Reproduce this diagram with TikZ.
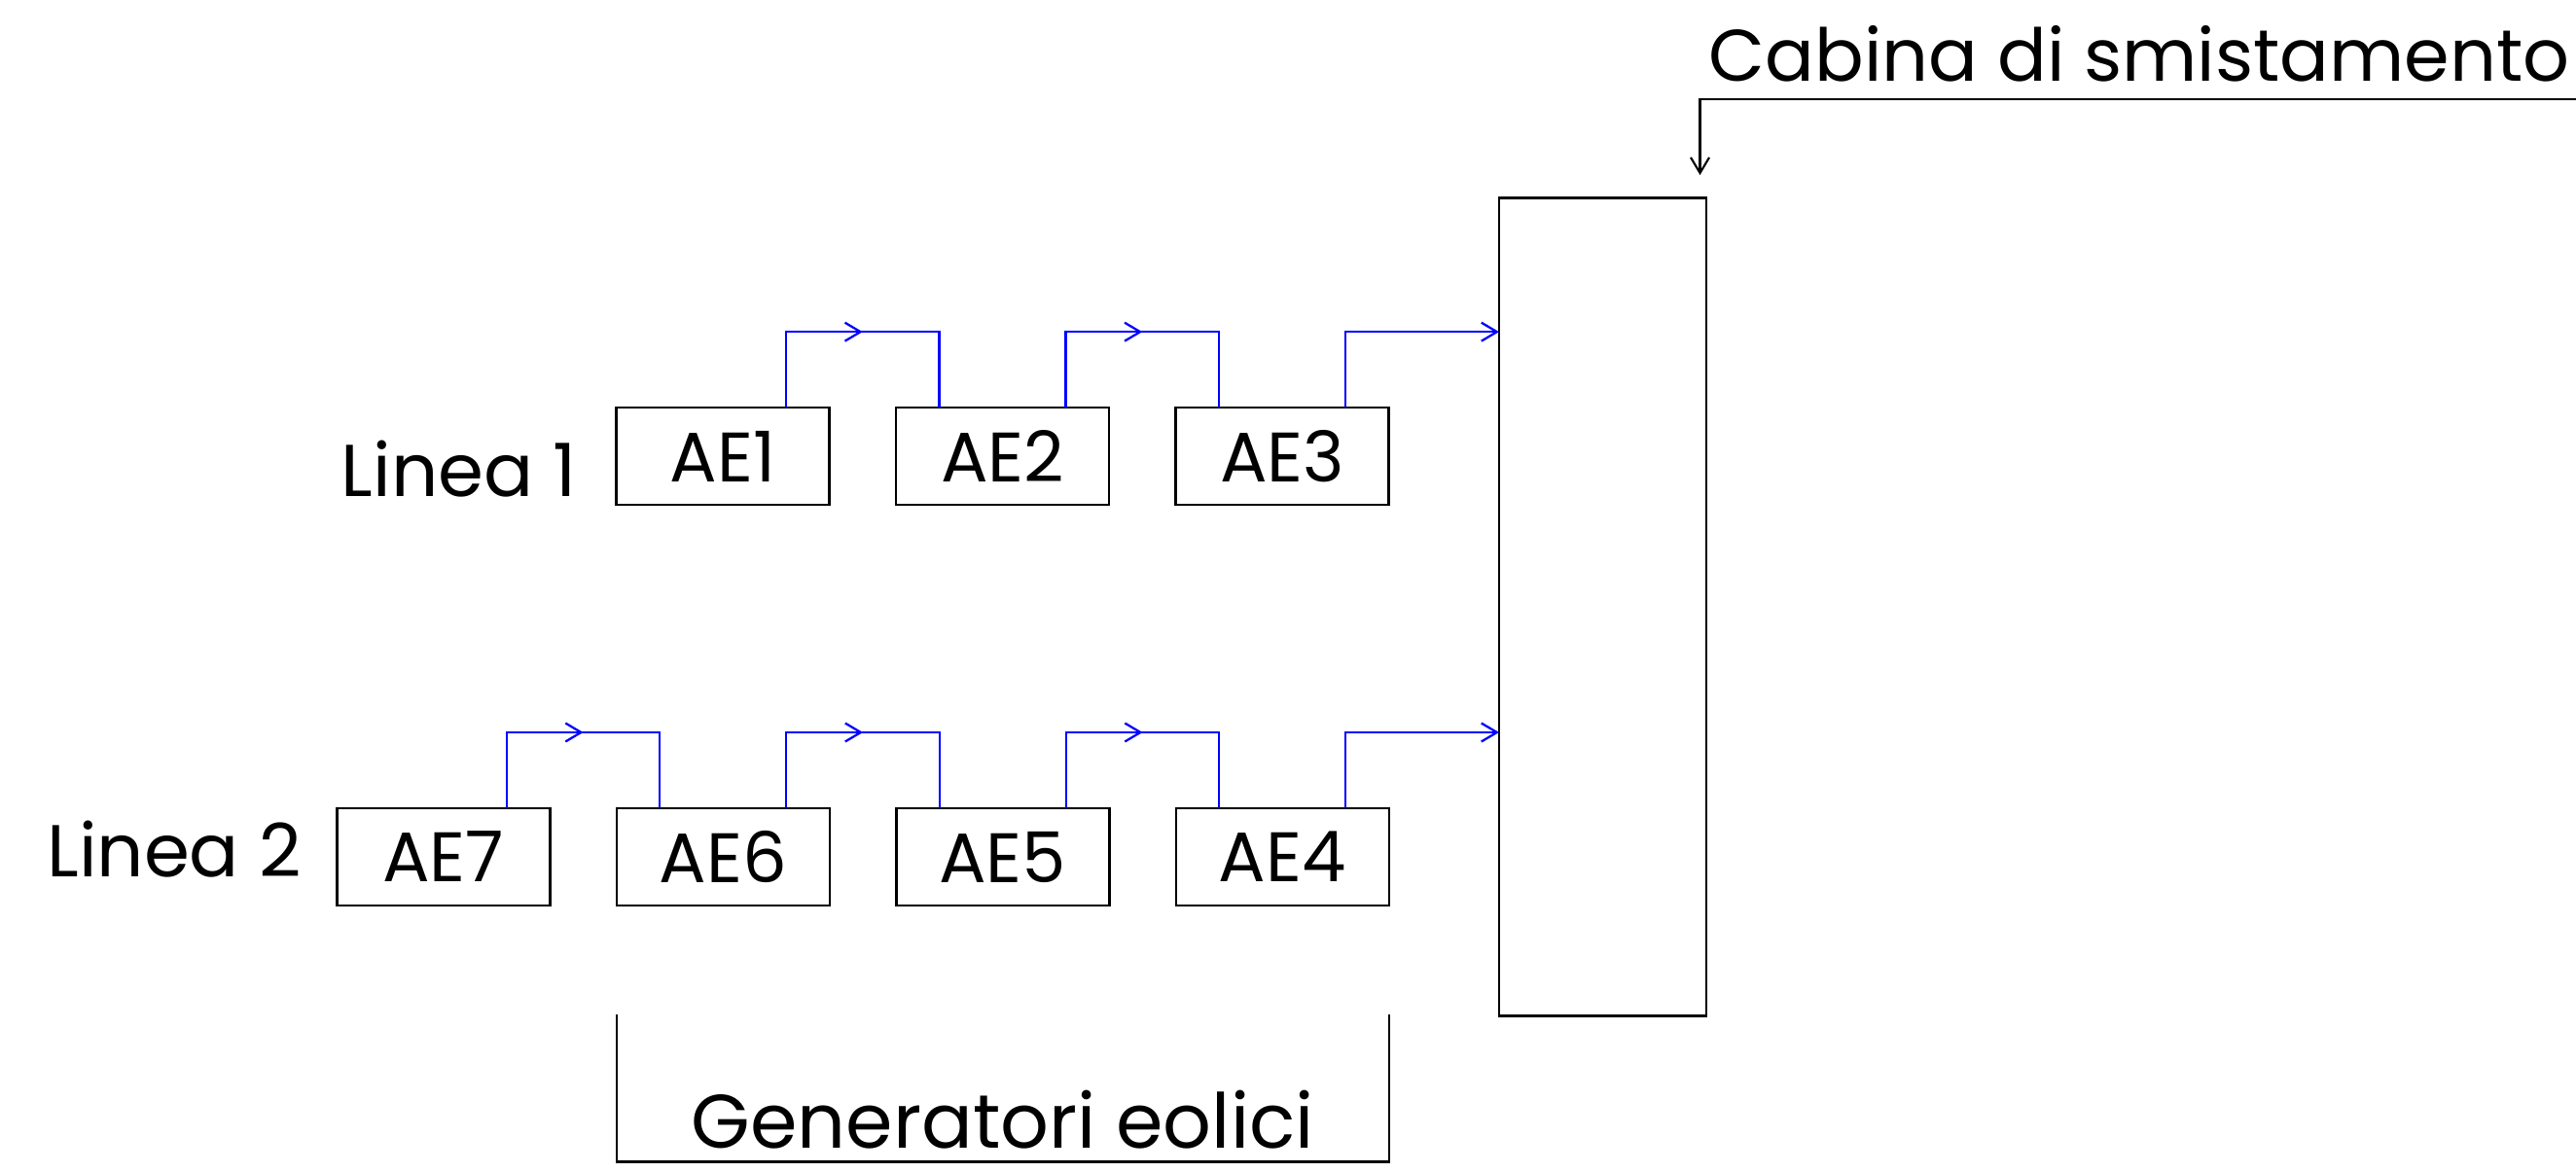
\documentclass[tikz,border=0pt]{standalone}
\usepackage{fontspec}
\setmainfont{Poppins}
\usetikzlibrary{positioning, arrows.meta, decorations.markings}

\begin{document}
\begin{tikzpicture}[
  node distance=0.685cm,
  gen/.style={rectangle, draw, line width=0.7pt, minimum width=2.19cm, minimum height=1.0cm,
              inner sep=0pt, outer sep=0pt, font=\fontsize{20.5}{25}\selectfont},
  barb/.tip={Straight Barb[length=0.16cm, width=0.19cm]},
  wire/.style={draw=blue, line width=0.65pt},
  flow/.style={wire, postaction={decorate},
               decoration={markings, mark=at position 0.5 with {\arrow{barb}}}}, % freccia a metà
  feed/.style={wire, -barb},
  lbl/.style={inner sep=0pt, font=\fontsize{21.5}{26}\selectfont}
]
\useasboundingbox (0,0) rectangle (26.48,12.04);

% ====== LINEA 1 ======
\node[gen] (ae1) at (7.43,7.348) {AE1};
\node[gen, right=of ae1] (ae2) {AE2};
\node[gen, right=of ae2] (ae3) {AE3};
\node[lbl, anchor=base east] (linea1) at ([xshift=-0.4cm, yshift=0.085cm]ae1.south west) {Linea 1};

% ====== LINEA 2 ======
\node[gen] (ae7) at (4.558,3.23) {AE7};
\node[gen, right=of ae7] (ae6) {AE6};
\node[gen, right=of ae6] (ae5) {AE5};
\node[gen, right=of ae5] (ae4) {AE4};
\node[lbl, anchor=base east] (linea2) at ([xshift=-0.36cm, yshift=0.29cm]ae7.south west) {Linea 2};

% ====== CABINA ======
\node[draw, line width=0.7pt, minimum width=2.13cm, minimum height=8.414cm,
      inner sep=0pt, outer sep=0pt] (cabina) at (16.475,5.80) {};

% collegamenti linea 1
\draw[flow] ([xshift=0.65cm]ae1.north) -- ++(0,0.78) -| ([xshift=-0.65cm]ae2.north);
\draw[flow] ([xshift=0.65cm]ae2.north) -- ++(0,0.78) -| ([xshift=-0.65cm]ae3.north);
\draw[feed] ([xshift=0.65cm]ae3.north) -- ++(0,0.78) coordinate (k1) -- (k1 -| cabina.west);

% collegamenti linea 2
\draw[flow] ([xshift=0.65cm]ae7.north) -- ++(0,0.78) -| ([xshift=-0.65cm]ae6.north);
\draw[flow] ([xshift=0.65cm]ae6.north) -- ++(0,0.78) -| ([xshift=-0.65cm]ae5.north);
\draw[flow] ([xshift=0.65cm]ae5.north) -- ++(0,0.78) -| ([xshift=-0.65cm]ae4.north);
\draw[feed] ([xshift=0.65cm]ae4.north) -- ++(0,0.78) coordinate (k2) -- (k2 -| cabina.west);

% richiamo cabina
\coordinate (callout) at (26.48,11.02);
\draw[line width=0.6pt, -barb] (callout) -| ([xshift=-0.065cm, yshift=0.233cm]cabina.north east);
\node[lbl, font=\fontsize{23.7}{28}\selectfont, anchor=base west] (titolo) at (17.56,11.207)
  {\resizebox{8.85cm}{!}{Cabina di smistamento}};

% generatori eolici
\draw[line width=0.7pt] ([yshift=-1.123cm]ae6.south west) -- ++(0,-1.51)
  -| node[lbl, pos=0.25, anchor=base, yshift=0.143cm, font=\fontsize{22.2}{27}\selectfont] (eolici) {Generatori eolici}
  ([yshift=-1.123cm]ae4.south east);

\end{tikzpicture}
\end{document}
